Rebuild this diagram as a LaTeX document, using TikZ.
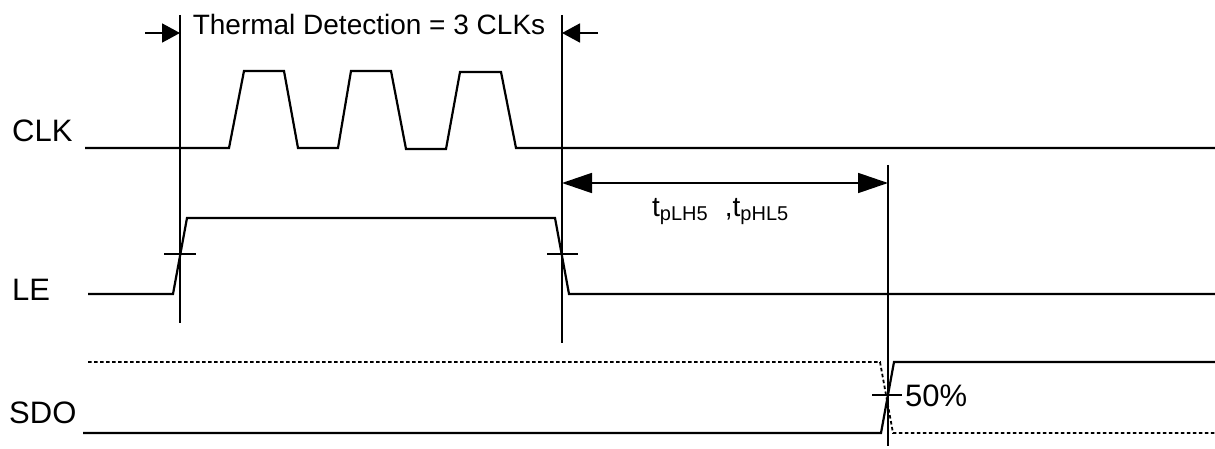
\documentclass[tikz,border=0pt]{standalone}
\usepackage{fontspec}
\setmainfont{Liberation Sans}
\usetikzlibrary{arrows.meta}
\tikzset{
  sig/.style    ={line width=2.2pt},
  sigdot/.style ={line width=1.8pt, dash pattern=on 3.5pt off 2.5pt},
  guide/.style  ={line width=1.8pt},
  crs/.style    ={line width=1.8pt},
  lbl/.style    ={font=\fontsize{28}{32}\selectfont, inner sep=0pt},
  sname/.style  ={font=\fontsize{31}{34}\selectfont, inner sep=0pt},
  pt/.style     ={-{Triangle[length=18pt,width=19pt]}, line width=1.8pt},
  dimarr/.style ={{Triangle[length=30pt,width=20pt]}-{Triangle[length=30pt,width=20pt]},
                  line width=1.8pt},
}
\newcommand{\lowsub}[1]{\raisebox{-5pt}{\fontsize{20}{22}\selectfont #1}}

\begin{document}
\begin{tikzpicture}[x=1pt,y=-1pt]
\useasboundingbox (0,0) rectangle (1215,449);

% ---- reference lines -------------------------------------------------
\coordinate (g1t) at (180,15);  \coordinate (g1b) at (180,323);
\coordinate (g2t) at (562,15);  \coordinate (g2b) at (562,343);
\coordinate (g3t) at (888,165); \coordinate (g3b) at (888,446);
\draw[guide] (g1t) -- (g1b);
\draw[guide] (g2t) -- (g2b);
\draw[guide] (g3t) -- (g3b);

% ---- signal names ----------------------------------------------------
\node[sname, anchor=base west] (clk) at (12,142) {CLK};
\node[sname, anchor=base west] (le)  at (12,300) {LE};
\node[sname, anchor=base west] (sdo) at (9,423)  {SDO};

% ---- CLK -------------------------------------------------------------
\draw[sig] (85,148) -- (229,148) -- (244,71) -- (284,71) -- (298,148)
      -- (338,148) -- (351,71) -- (391,71) -- (406,149) -- (446,149)
      -- (460,72) -- (501,72) -- (516,148) -- (1215,148);

% ---- LE --------------------------------------------------------------
\draw[sig] (88,294) -- (173,294) -- (187,218) -- (555,218) -- (569,294)
      -- (1215,294);
\draw[crs] (164,254) -- (196,254);
\draw[crs] (547,254) -- (578,254);

% ---- SDO -------------------------------------------------------------
\draw[sigdot] (88,362) -- (880,362) -- (893,433) -- (1215,433);
\draw[sig] (83,433) -- (881,433) -- (894,362) -- (1215,362);
\draw[crs] (872,395) -- (902,395);
\node[sname, anchor=base west] (pct) at (905,406) {50\%};

% ---- thermal detection window ----------------------------------------
\coordinate (lft) at (145,33);
\coordinate (rgt) at (598,33);
\draw[pt] (lft) -- (lft-|g1t);
\draw[pt] (rgt) -- (rgt-|g2t);
\node[lbl, anchor=base] (therm) at (369,35) {Thermal Detection = 3 CLKs};

% ---- propagation delay -----------------------------------------------
\coordinate (dl) at (562,183);
\draw[dimarr] (dl) -- (dl-|g3t);
\node[lbl, anchor=base west] (tpd) at (652,216)
      {t\lowsub{pLH5}\,\, ,t\lowsub{pHL5}};

\end{tikzpicture}
\end{document}
